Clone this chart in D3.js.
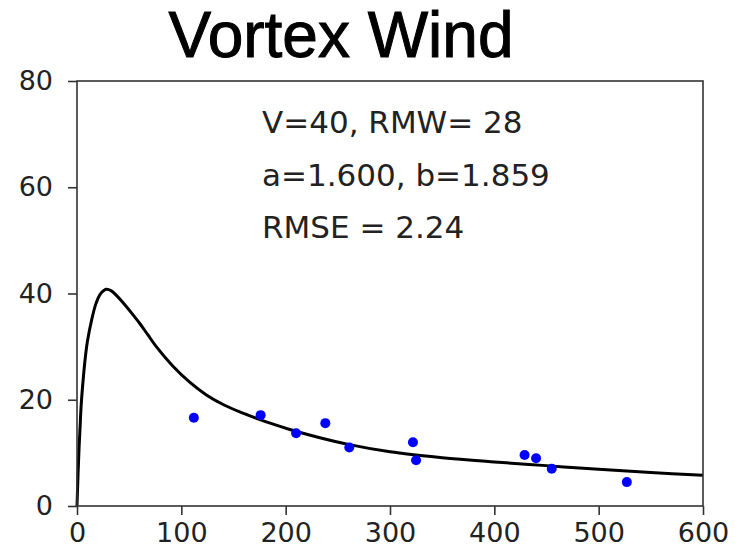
<!DOCTYPE html>
<html lang="en">
<head>
<meta charset="utf-8">
<title>Vortex Wind</title>
<script src="https://cdn.jsdelivr.net/npm/d3@7"></script>
<style>
  body { margin: 0; background: #fff; }
  svg text { font-family: "DejaVu Sans", sans-serif; fill: #222; }
</style>
</head>
<body>
<script>
// observed wind points
var obsDist  = [112, 176, 210, 238, 261, 322, 325, 429, 440, 455, 527];
var obsSpeed = [16.6, 17.1, 13.7, 15.6, 11.0, 12.0, 8.6, 9.6, 9.0, 7.0, 4.5];

// fitted profile
var fitDist  = [0, 1, 2, 3, 4, 6, 8, 10, 14, 18, 22, 26, 28, 33, 38, 44, 52, 60, 68, 76, 92, 108, 124, 140, 156, 172, 188, 204, 230, 260, 300, 350, 400, 450, 500, 550, 600];
var fitSpeed = [0, 6, 11, 15, 19, 24, 28, 31, 35, 38, 39.8, 40.6, 40.8, 40.5, 39.6, 38.3, 36.4, 34.4, 32.2, 30.0, 26.3, 23.3, 20.9, 19.1, 17.7, 16.5, 15.4, 14.4, 13.0, 11.6, 10.2, 9.1, 8.3, 7.6, 6.9, 6.3, 5.8];

var xTicks = [0, 100, 200, 300, 400, 500, 600];
var yTicks = [0, 20, 40, 60, 80];
var notes = ["V=40, RMW= 28", "a=1.600, b=1.859", "RMSE = 2.24"];

var width = 739, height = 555;
var margin = {top: 81, right: 36, bottom: 49, left: 77};

var svg = d3.select("body").append("svg")
    .attr("width", width)
    .attr("height", height);

var x = d3.scaleLinear().domain([0, 600]).range([margin.left, width - margin.right]);
var y = d3.scaleLinear().domain([0, 80]).range([height - margin.bottom, margin.top]);

svg.append("text")
    .attr("x", 341)
    .attr("y", 57)
    .attr("text-anchor", "middle")
    .style("font-family", "'Liberation Sans', Arial, sans-serif")
    .style("font-size", "64px")
    .style("fill", "#000")
    .style("stroke", "#000")
    .style("stroke-width", 1)
    .text("Vortex Wind");

// fitted curve
var line = d3.line()
    .x(function(d, i) { return x(fitDist[i]); })
    .y(function(d) { return y(d); })
    .curve(d3.curveCatmullRom.alpha(0.5));

svg.append("path")
    .datum(fitSpeed)
    .attr("d", line)
    .attr("fill", "none")
    .attr("stroke", "#000")
    .attr("stroke-width", 3);

svg.selectAll(".dot")
    .data(obsDist)
    .enter().append("circle")
    .attr("class", "dot")
    .attr("cx", function(d) { return x(d); })
    .attr("cy", function(d, i) { return y(obsSpeed[i]); })
    .attr("r", 5)
    .attr("fill", "#0000ff");

// frame
svg.append("rect")
    .attr("x", x(0))
    .attr("y", y(80))
    .attr("width", x(600) - x(0))
    .attr("height", y(0) - y(80))
    .attr("fill", "none")
    .attr("stroke", "#333")
    .attr("stroke-width", 1.6);

var xAxis = svg.append("g")
    .attr("transform", "translate(0," + y(0) + ")")
    .call(d3.axisBottom(x).tickValues(xTicks).tickSize(9).tickPadding(8).tickFormat(d3.format("d")));

var yAxis = svg.append("g")
    .attr("transform", "translate(" + x(0) + ",0)")
    .call(d3.axisLeft(y).tickValues(yTicks).tickSize(9).tickPadding(15).tickFormat(d3.format("d")));

[xAxis, yAxis].forEach(function(a) {
    a.select(".domain").remove();
    a.selectAll(".tick line").attr("stroke", "#333").attr("stroke-width", 1.6);
    a.selectAll(".tick text").style("font-size", "27px").style("fill", "#222");
});

svg.selectAll(".note")
    .data(notes)
    .enter().append("text")
    .attr("class", "note")
    .attr("x", 262)
    .attr("y", function(d, i) { return 133 + i * 52.5; })
    .style("font-size", "31px")
    .text(function(d) { return d; });
</script>
</body>
</html>
